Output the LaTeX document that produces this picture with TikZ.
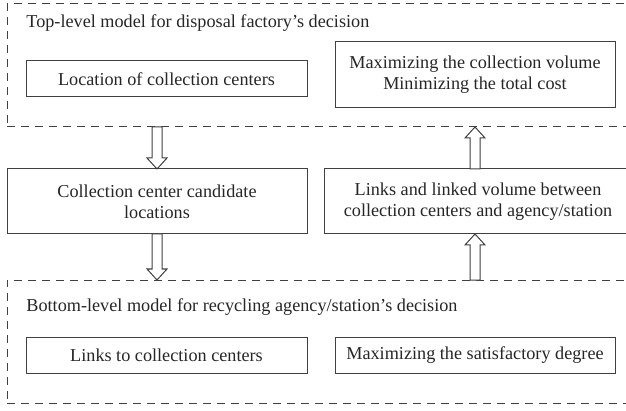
\documentclass[tikz,border=0pt]{standalone}
\usepackage{fontspec}
\setmainfont{Liberation Serif}
\usepackage{tikz}
\usetikzlibrary{positioning,calc}
\tikzset{x=0.5pt, y=-0.5pt}
\tikzset{box/.style={draw=black!75,line width=0.5pt,rectangle,align=center,inner sep=0pt,outer sep=0pt,text=black!85,font=\fontsize{9.1}{10.6}\selectfont}}
\tikzset{dashbox/.style={box,dash pattern=on 4pt off 3pt}}
\tikzset{fat/.style={draw=black!75,fill=white,line width=0.5pt,
    to path={let \p1=(\tikztostart), \p2=(\tikztotarget), \n1={((\y2>\y1)*2-1)*5.5pt} in
      (\x1-2.5pt,\y1) -- (\x1-2.5pt,\y2-\n1) -- (\x1-5pt,\y2-\n1) -- (\x1,\y2)
      -- (\x1+5pt,\y2-\n1) -- (\x1+2.5pt,\y2-\n1) -- (\x1+2.5pt,\y1) -- cycle}}}
\tikzstyle{title}=[anchor=base west, inner sep=0pt, text=black!85, font=\fontsize{9.1}{10.6}\selectfont]

\begin{document}
\begin{tikzpicture}
        \clip (0,0) rectangle (626,411);
        % top level
        \node[dashbox, minimum width=312.5pt, minimum height=61.5pt] (top) at (319.5,65.5) {};
        \node[title] (toptxt) at (26,28) {Top-level model for disposal factory’s decision};
        \node[box, minimum width=140.5pt, minimum height=18pt] (loc) at (166.5,79) {Location of collection centers};
        \node[box, minimum width=140pt, minimum height=33pt] (max) at (475,75) {Maximizing the collection volume\\Minimizing the total cost};
        % middle
        \node[box, minimum width=150pt, minimum height=32.5pt] (cand) at (157,201.5) {Collection center candidate\\locations};
        \node[box, minimum width=154pt, minimum height=32.5pt] (links) at (478,201.5) {Links and linked volume between\\collection centers and agency/station};
        % bottom level
        \node[dashbox, minimum width=312.5pt, minimum height=61.5pt] (bot) at (319.5,341.5) {};
        \node[title] (bottxt) at (26,311) {Bottom-level model for recycling agency/station’s decision};
        \node[box, minimum width=140.5pt, minimum height=18pt] (linksto) at (166.5,355) {Links to collection centers};
        \node[box, minimum width=140pt, minimum height=18pt] (maxsat) at (475,355) {Maximizing the satisfactory degree};
        % arrows
        \draw[fat] (top.south -| cand.north) to (cand.north);
        \draw[fat] (links.north -| max.south) to (top.south -| max.south);
        \draw[fat] (cand.south) to (bot.north -| cand.south);
        \draw[fat] (bot.north -| maxsat.north) to (links.south -| maxsat.north);
\end{tikzpicture}
\end{document}
